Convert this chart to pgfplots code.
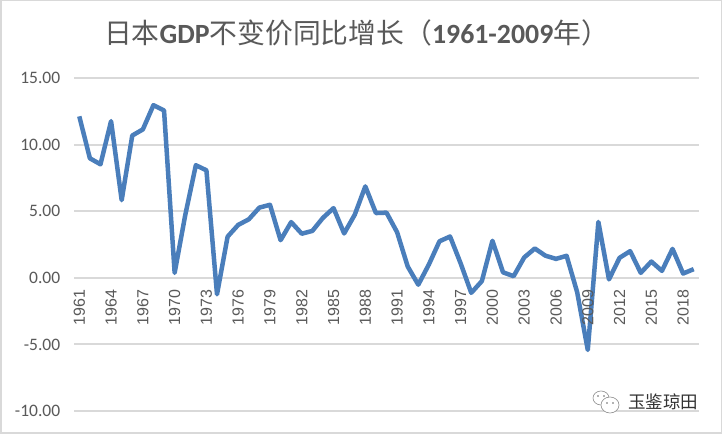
\documentclass[border=0pt]{standalone}
\usepackage{fontspec}
\usepackage{pgfplots}
\pgfplotsset{compat=1.18}
\setmainfont{Carlito}
\newfontfamily\cjk{Noto Sans CJK SC}
\newfontfamily\arial{Liberation Sans}
\definecolor{gridgray}{HTML}{D9D9D9}
\definecolor{labelgray}{HTML}{595959}
\definecolor{linieblue}{HTML}{4A7EBB}
\pgfplotsset{frameaxis/.style={
    at={(74bp,23bp)},
    anchor=south west,
    scale only axis,
    width=625bp,
    height=333bp,
    xmin=-0.5, xmax=58.5,
    ymin=-10, ymax=15,
}}

\begin{document}
\begin{tikzpicture}[x=1bp,y=1bp]
\useasboundingbox (0,0) rectangle (722,434);
\fill[white] (0,0) rectangle (722,434);
\draw[gridgray,line width=3bp] (0,0) rectangle (722,434);

\begin{axis}[
    frameaxis,
    axis x line=middle,
    axis y line=left,
    y axis line style={draw=none},
    x axis line style={gridgray,line width=2bp,-},
    ytick={-10,-5,0,5,10,15},
    ymajorgrids,
    major grid style={gridgray,line width=2bp},
    y tick label style={
        font=\fontsize{17.5bp}{20bp}\selectfont,
        text=labelgray,
        xshift=-6bp,
        /pgf/number format/.cd,fixed,fixed zerofill,precision=2,assume math mode=true,
    },
    ytick style={draw=none},
    xtick=\empty,
    minor xtick={-0.5,2.5,...,56.5},
    minor x tick style={gridgray,line width=1.5bp},
    minor tick length=5bp,
    tick align=outside,
    clip=false,
]
\addplot[linieblue,line width=4.5bp,line join=round] table[x=i,y=v] {
i v
0 12.12
1 8.97
2 8.52
3 11.76
4 5.83
5 10.68
6 11.14
7 12.96
8 12.56
9 0.37
10 4.70
11 8.45
12 8.07
13 -1.24
14 3.09
15 3.97
16 4.39
17 5.27
18 5.48
19 2.82
20 4.18
21 3.31
22 3.52
23 4.50
24 5.23
25 3.33
26 4.73
27 6.86
28 4.86
29 4.89
30 3.42
31 0.85
32 -0.52
33 1.00
34 2.74
35 3.10
36 1.08
37 -1.13
38 -0.25
39 2.78
40 0.41
41 0.12
42 1.53
43 2.20
44 1.66
45 1.42
46 1.65
47 -1.09
48 -5.42
49 4.19
50 -0.12
51 1.50
52 2.00
53 0.37
54 1.22
55 0.52
56 2.17
57 0.32
58 0.65
};
\end{axis}

% year labels in a second axis, so they lie over the line
\begin{axis}[
    frameaxis,
    axis x line=middle,
    axis y line=none,
    x axis line style={draw=none},
    xtick={0,3,...,57},
    xticklabels={1961,1964,1967,1970,1973,1976,1979,1982,1985,1988,1991,1994,1997,2000,2003,2006,2009,2012,2015,2018},
    x tick label style={
        font=\arial\fontsize{16bp}{18bp}\selectfont,
        text=labelgray,
        rotate=90,
        anchor=east,
        xshift=-6.5bp,
    },
    major x tick style={draw=none},
]
\end{axis}

% title
\node[anchor=center,text=labelgray,inner sep=0pt] at (356.5,401.5) {\fontsize{27.8bp}{32bp}\selectfont
  {\cjk 日本}\textbf{GDP}{\cjk 不变价同比增长（}\textbf{1961-2009}{\cjk 年）}};

% watermark
\node[anchor=center,text=black!80,inner sep=0pt] at (663,32) {\cjk\fontsize{17.5bp}{20bp}\selectfont 玉鉴琼田};
\draw[black!45,line width=0.6bp,fill=white] (601,36) ellipse (8 and 7);
\draw[black!45,line width=0.6bp,fill=white] (610,29) ellipse (9 and 8);
\fill[black!60] (598,38) circle (0.8) (604,38) circle (0.8) (607,31) circle (0.8) (613,31) circle (0.8);
\end{tikzpicture}
\end{document}
